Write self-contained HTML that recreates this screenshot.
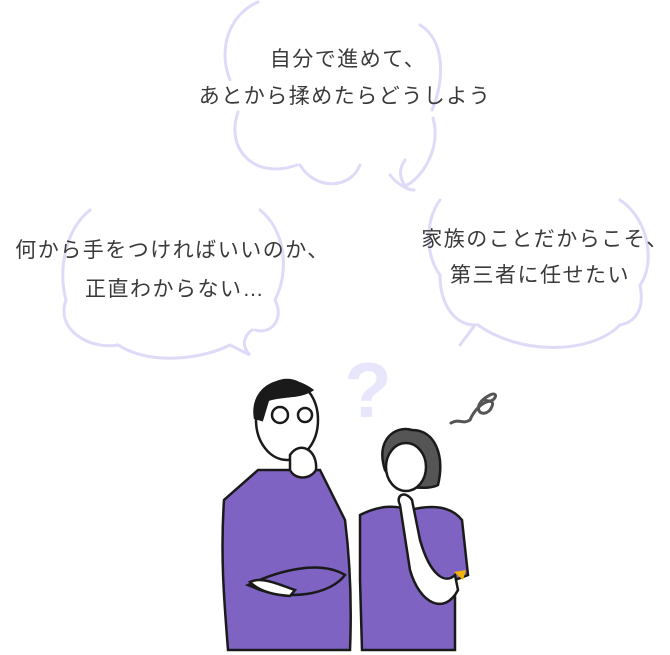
<!DOCTYPE html>
<html><head><meta charset="utf-8"><style>
body{margin:0;background:#fff;width:670px;height:655px;overflow:hidden;position:relative;font-family:"Liberation Sans","Noto Sans CJK JP",sans-serif}
.t{position:absolute;color:#3a3a3a;font-size:21px;letter-spacing:1.5px;white-space:nowrap;text-align:center;line-height:36px}
svg{position:absolute;left:0;top:0}
</style></head><body>
<svg width="670" height="655" viewBox="0 0 670 655" fill="none" stroke-linecap="round">
<g stroke="#dedbf9" stroke-width="3">
<path d="M258 2 C228 15 218 50 230 80"/>
<path d="M238 112 C225 150 255 180 297 165"/>
<path d="M300 165 C315 190 350 190 360 165"/>
<path d="M420 25 C445 40 445 80 432 110"/>
<path d="M433 118 C442 150 420 180 405 186 C400 178 398 170 405 160"/>
<path d="M390 175 C398 185 408 190 414 190"/>
<path d="M90 210 C65 230 58 270 66 300 C55 330 90 350 118 345"/>
<path d="M118 345 C150 365 200 360 230 345 L250 355 C240 345 245 335 252 330"/>
<path d="M260 210 C285 230 290 270 275 300 C285 320 270 335 255 330"/>
<path d="M440 200 C425 220 425 255 440 275 C440 305 455 325 475 325 L460 345"/>
<path d="M478 325 C520 355 590 355 620 325"/>
<path d="M620 200 C650 220 655 265 640 285 C645 310 635 322 620 325"/>
</g>
<text x="368" y="417" font-family="Liberation Sans" font-weight="bold" font-size="78" fill="#e8e6fb" text-anchor="middle">?</text>
<path d="M451 423 C460 418 462 425 470 420 C478 400 500 395 490 410 C480 420 470 405 490 395 C500 390 495 405 485 400" stroke="#555" stroke-width="3"/>
<g stroke="#1a1a1a" stroke-width="2.5">
<path d="M258 470 L224 500 C220 560 225 610 228 650 L350 650 C352 600 350 560 345 520 L320 470 Z" fill="#7f63c2"/>
<path d="M248 585 C280 570 320 560 345 575 C330 595 290 600 260 590 Z" fill="#7f63c2"/>
<path d="M250 582 C262 576 280 585 295 590 L290 596 C275 595 260 592 250 582 Z" fill="#fff"/>
<ellipse cx="287" cy="420" rx="31" ry="40" fill="#fff"/>
<path d="M255 418 C250 385 285 370 312 390 C300 398 280 395 268 400 L262 420 Z" fill="#1a1a1a"/>
<circle cx="280" cy="415" r="8" fill="none"/><circle cx="305" cy="415" r="7" fill="none"/>
<path d="M290 455 C300 440 318 450 316 470 C310 480 295 480 290 470 Z" fill="#fff"/>
</g>
<g stroke="#1a1a1a" stroke-width="2.5">
<path d="M360 515 C380 505 395 505 410 510 C430 505 450 505 462 520 L468 575 L455 580 L455 650 L362 650 L360 580 Z" fill="#7f63c2"/>
<path d="M385 470 C375 440 395 425 412 430 C435 430 445 455 438 485 C430 490 395 490 385 470 Z" fill="#555"/>
<ellipse cx="406" cy="467" rx="20" ry="24" fill="#fff"/>
<path d="M400 505 C395 495 405 490 412 500 L420 540 C430 575 445 585 455 575 L458 590 C445 615 420 605 410 570 Z" fill="#fff"/>
</g>
<path d="M454 572 L466 570 L463 580 Z" fill="#f2b400"/>
</svg>
<div class="t" style="left:218px;top:42px;width:260px">自分で進めて、</div>
<div class="t" style="left:180px;top:79px;width:330px">あとから揉めたらどうしよう</div>
<div class="t" style="left:0px;top:233px;width:345px">何から手をつければいいのか、</div>
<div class="t" style="left:50px;top:272px;width:250px">正直わからない…</div>
<div class="t" style="left:415px;top:222px;width:260px">家族のことだからこそ、</div>
<div class="t" style="left:415px;top:258px;width:250px">第三者に任せたい</div>
</body></html>
